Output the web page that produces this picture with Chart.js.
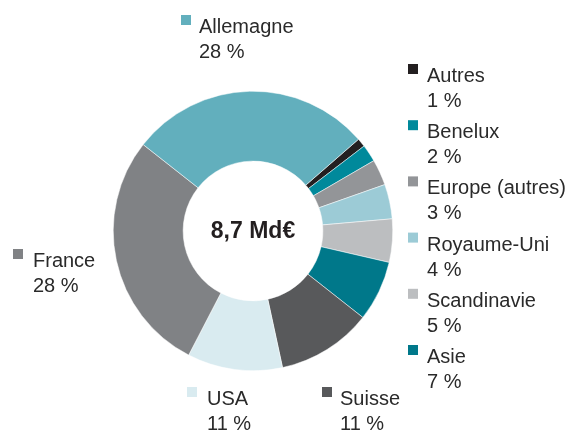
<!DOCTYPE html>
<html>
<head>
<meta charset="utf-8">
<script src="https://cdn.jsdelivr.net/npm/chart.js@4/dist/chart.umd.min.js"></script>
<style>
  html, body { margin: 0; padding: 0; background: #fff; }
  #wrap { width: 568px; height: 433px; position: relative; }
</style>
</head>
<body>
<div id="wrap"><canvas id="chart" width="568" height="433"></canvas></div>
<script>
(function () {
    "use strict";

    // Data (clockwise, starting from Autres)
    const regions = ["Autres", "Benelux", "Europe (autres)", "Royaume-Uni", "Scandinavie", "Asie", "Suisse", "USA", "France", "Allemagne"];
    const shares = [1, 2, 3, 4, 5, 7, 11, 11, 28, 28];
    const colors = ["#231f20", "#00899b", "#939598", "#9ccbd6", "#bcbec0", "#00788a", "#58595b", "#d9ebf0", "#808285", "#62afbd"];
    const centerLabel = "8,7 Md€";

    // Label placement: [square x, text x, first-line baseline]
    const rightCol = { sq: 408, tx: 427, y0: 82, step: 56.2 };
    const fixedPos = {
        "Allemagne": [181, 199, 33],
        "France": [13, 33, 267],
        "USA": [187, 207, 405],
        "Suisse": [322, 340, 405]
    };

    const textColor = "#2a2a2a";
    const fontFamily = "'Liberation Sans', Arial, sans-serif";

    const labelsPlugin = {
        id: "sliceLabels",
        afterDraw(chart) {
            const ctx = chart.ctx;
            const meta = chart.getDatasetMeta(0);
            ctx.save();
            ctx.font = "20px " + fontFamily;
            ctx.textBaseline = "alphabetic";
            ctx.textAlign = "left";
            let r = 0;
            regions.forEach((name, i) => {
                let pos = fixedPos[name];
                if (!pos) {
                    pos = [rightCol.sq, rightCol.tx, rightCol.y0 + r * rightCol.step];
                    r++;
                }
                ctx.fillStyle = meta.data[i].options.backgroundColor;
                ctx.fillRect(pos[0], pos[2] - 18, 10, 10);
                ctx.fillStyle = textColor;
                ctx.fillText(name, pos[1], pos[2]);
                ctx.fillText(shares[i] + " %", pos[1], pos[2] + 25);
            });

            // center total
            const arc = meta.data[0];
            ctx.font = "bold 23px " + fontFamily;
            ctx.textAlign = "center";
            ctx.textBaseline = "middle";
            ctx.fillStyle = "#231f20";
            ctx.fillText(centerLabel, arc.x, arc.y + 1);
            ctx.restore();
        }
    };

    const ctx = document.getElementById("chart").getContext("2d");
    new Chart(ctx, {
        type: "doughnut",
        data: {
            labels: regions,
            datasets: [
                {
                    data: shares,
                    backgroundColor: colors,
                    borderColor: "#ffffff",
                    borderWidth: 0.5,
                    hoverOffset: 0,
                },
            ],
        },
        options: {
            responsive: false,
            animation: false,
            rotation: 49,
            cutout: "50%",
            layout: {
                padding: { left: 113, right: 175, top: 91, bottom: 62 },
            },
            plugins: {
                legend: { display: false },
                tooltip: { enabled: false },
            },
        },
        plugins: [labelsPlugin],
    });
})();
</script>
</body>
</html>
